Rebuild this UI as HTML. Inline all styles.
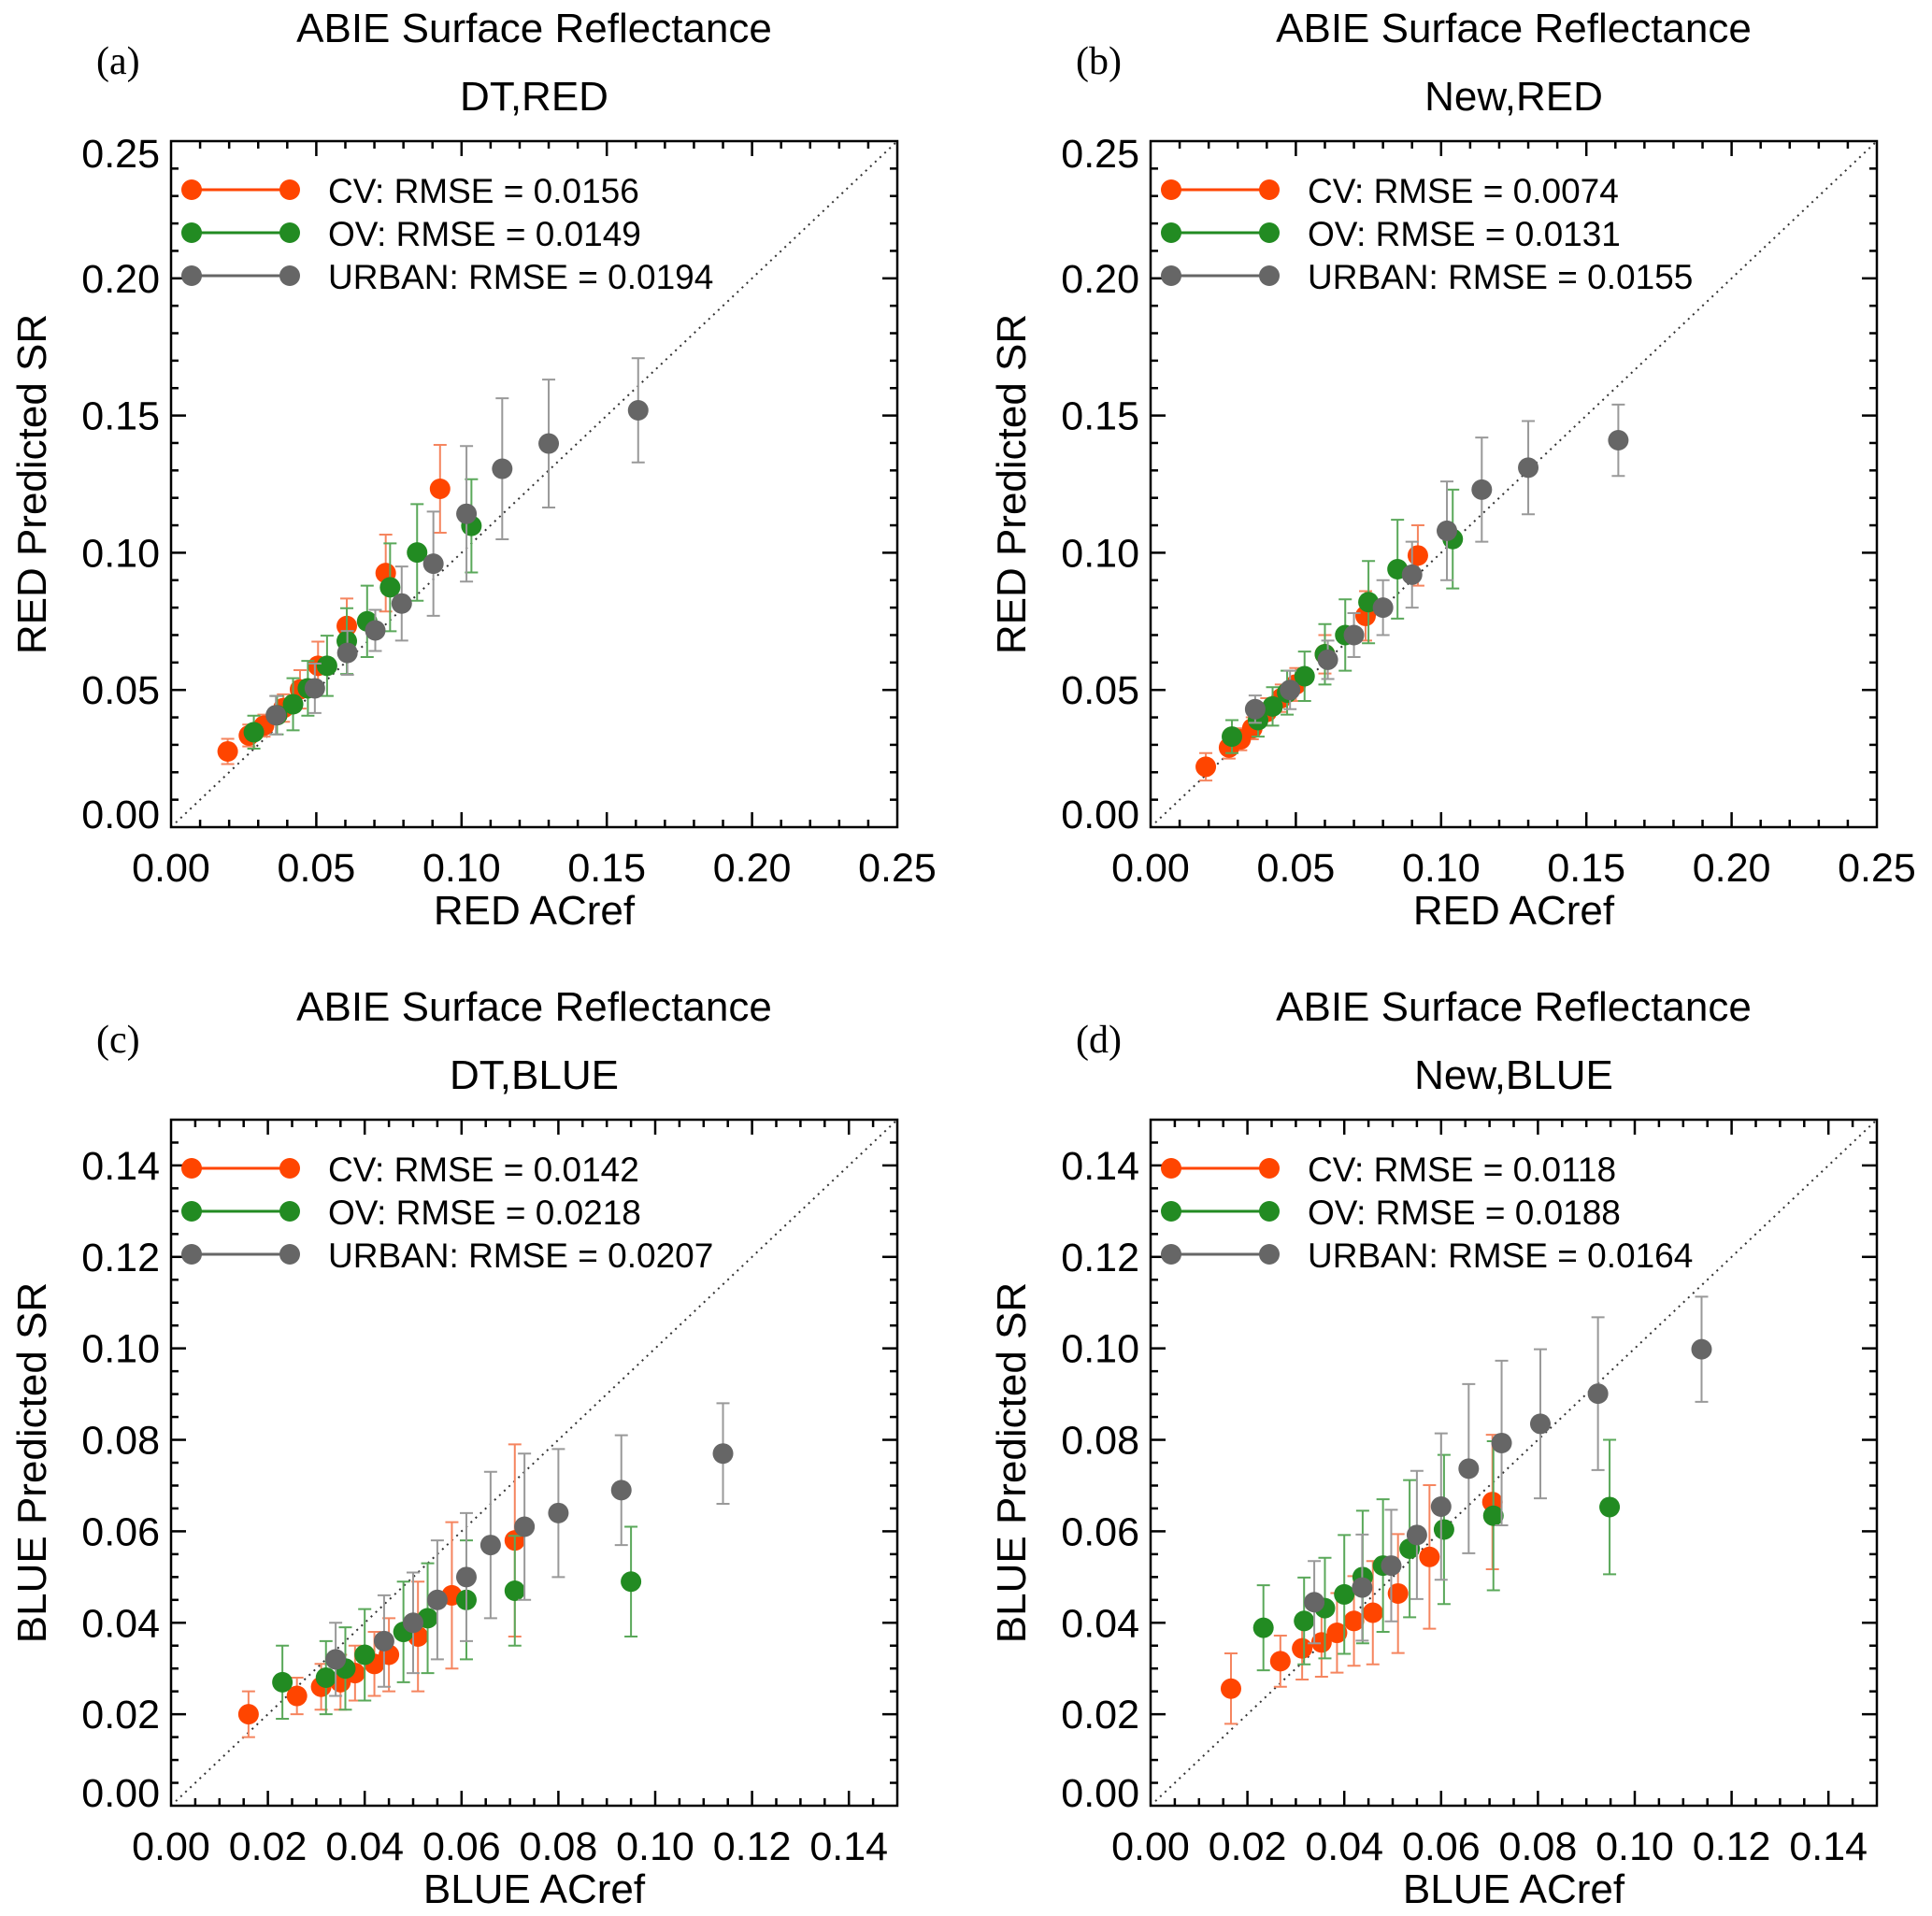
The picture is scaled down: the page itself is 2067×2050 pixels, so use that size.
<!DOCTYPE html>
<html><head><meta charset="utf-8">
<style>
html,body{margin:0;padding:0;background:#fff;}
svg{display:block;font-family:"Liberation Sans",Arial,sans-serif;}
</style></head>
<body>
<svg id="fig" width="2067" height="2050" viewBox="0 0 2067 2050" xmlns="http://www.w3.org/2000/svg"></svg>
<script>
// ---------- data ----------
const redTicks = ["0.00","0.05","0.10","0.15","0.20","0.25"];
const blueTicks = ["0.00","0.02","0.04","0.06","0.08","0.10","0.12","0.14"];

// panel a: DT RED  [x, y, err]
const aCV = [[0.0195,0.0276,0.0046],[0.0268,0.0334,0.004],[0.032,0.037,0.004],[0.0387,0.0434,0.005],[0.0444,0.0502,0.007],[0.0506,0.0588,0.0088],[0.0605,0.0733,0.010],[0.0739,0.0926,0.014],[0.0926,0.1233,0.016]];
const aOV = [[0.0285,0.0346,0.006],[0.0365,0.0408,0.007],[0.042,0.0448,0.0095],[0.0471,0.0506,0.010],[0.0537,0.0588,0.011],[0.0605,0.0678,0.012],[0.0675,0.075,0.013],[0.0754,0.0874,0.016],[0.0847,0.1001,0.0176],[0.1034,0.1098,0.017]];
const aUR = [[0.0361,0.0408,0.007],[0.0495,0.0506,0.009],[0.0607,0.0635,0.008],[0.0703,0.0717,0.0075],[0.0794,0.0815,0.0135],[0.0903,0.096,0.019],[0.1017,0.1142,0.0247],[0.114,0.1306,0.0257],[0.130,0.1398,0.0233],[0.1608,0.1519,0.019]];
// panel b: New RED
const bCV = [[0.019,0.022,0.005],[0.027,0.029,0.004],[0.031,0.032,0.004],[0.035,0.036,0.004],[0.040,0.042,0.005],[0.045,0.047,0.005],[0.050,0.052,0.006],[0.060,0.063,0.007],[0.074,0.077,0.009],[0.092,0.099,0.011]];
const bOV = [[0.028,0.033,0.006],[0.037,0.039,0.006],[0.042,0.044,0.007],[0.047,0.049,0.008],[0.053,0.055,0.009],[0.060,0.063,0.011],[0.067,0.070,0.013],[0.075,0.082,0.015],[0.085,0.094,0.018],[0.104,0.105,0.018]];
const bUR = [[0.036,0.043,0.005],[0.048,0.050,0.007],[0.061,0.061,0.007],[0.070,0.070,0.008],[0.080,0.080,0.010],[0.090,0.092,0.012],[0.102,0.108,0.018],[0.114,0.123,0.019],[0.130,0.131,0.017],[0.161,0.141,0.013]];
// panel c: DT BLUE
const cCV = [[0.016,0.020,0.005],[0.026,0.024,0.004],[0.031,0.026,0.005],[0.035,0.027,0.006],[0.038,0.029,0.006],[0.042,0.031,0.007],[0.045,0.033,0.008],[0.051,0.037,0.012],[0.058,0.046,0.016],[0.071,0.058,0.021]];
const cOV = [[0.023,0.027,0.008],[0.032,0.028,0.008],[0.036,0.030,0.009],[0.040,0.033,0.010],[0.048,0.038,0.011],[0.053,0.041,0.012],[0.061,0.045,0.013],[0.071,0.047,0.012],[0.095,0.049,0.012]];
const cUR = [[0.034,0.032,0.008],[0.044,0.036,0.010],[0.050,0.040,0.011],[0.055,0.045,0.013],[0.061,0.050,0.014],[0.066,0.057,0.016],[0.073,0.061,0.016],[0.080,0.064,0.014],[0.093,0.069,0.012],[0.114,0.077,0.011]];
// panel d: New BLUE
const dCV = [[0.0166,0.0256,0.0077],[0.0268,0.0316,0.0056],[0.0313,0.0344,0.0068],[0.0353,0.0357,0.0075],[0.0385,0.0378,0.0087],[0.042,0.0404,0.0098],[0.0459,0.0422,0.0113],[0.0511,0.0464,0.013],[0.0576,0.0544,0.0157],[0.0706,0.0664,0.0147]];
const dOV = [[0.0233,0.0389,0.0093],[0.0317,0.0404,0.0095],[0.036,0.0432,0.011],[0.040,0.0462,0.013],[0.0438,0.050,0.0145],[0.048,0.0525,0.0145],[0.0535,0.0562,0.015],[0.0606,0.0604,0.0163],[0.0708,0.0634,0.0163],[0.0948,0.0653,0.0147]];
const dUR = [[0.0338,0.0445,0.009],[0.0437,0.0477,0.0116],[0.0497,0.0525,0.0122],[0.055,0.0592,0.014],[0.060,0.0654,0.016],[0.0657,0.0737,0.0185],[0.0725,0.0793,0.018],[0.0805,0.0835,0.0163],[0.0924,0.0901,0.0167],[0.1138,0.0998,0.0115]];

const rmseA = ["0.0156","0.0149","0.0194"];
const rmseB = ["0.0074","0.0131","0.0155"];
const rmseC = ["0.0142","0.0218","0.0207"];
const rmseD = ["0.0118","0.0188","0.0164"];

// ---------- drawing ----------
const NS = "http://www.w3.org/2000/svg";
const svg = document.getElementById('fig');
function mk(tag, attrs, parent){
  const e = document.createElementNS(NS, tag);
  for (const k in attrs) e.setAttribute(k, attrs[k]);
  parent.appendChild(e);
  return e;
}
const COL = {cv:"#ff4500", ov:"#228b22", ur:"#666666"};
const ECOL = {cv:"#f5855f", ov:"#5aa85a", ur:"#999999"};
const W = 777, H = 734;

function panel(opts){
  const g = mk('g', {}, svg);
  
  
  const x0 = opts.x0, y0 = opts.y0, max = opts.max;
  const sx = v => x0 + v / max * W;
  const sy = v => y0 + H - v / max * H;

  // titles
  const t1 = mk('text', {x: x0 + W/2, y: y0 - 106, 'font-size': 44, 'text-anchor': 'middle', fill: '#000'}, g);
  t1.textContent = "ABIE Surface Reflectance";
  
  
  const t2 = mk('text', {x: x0 + W/2, y: y0 - 33, 'font-size': 44, 'text-anchor': 'middle', fill: '#000'}, g);
  t2.textContent = opts.sub;
  
  
  const pl = mk('text', {x: x0 - 80, y: y0 - 72, 'font-size': 42, 'font-family': '"Liberation Serif",serif', fill: '#000'}, g);
  pl.textContent = "(" + opts.id + ")";
  
  

  // ticks
  const minorStep = opts.minor, majorStep = opts.major;
  const nMinor = Math.round(max / minorStep);
  const ratio = Math.round(majorStep / minorStep);
  const tg = mk('g', {stroke: '#000', 'stroke-width': 2.5}, g);
  
  
  for (let i = 1; i < nMinor; i++){
    const v = i * minorStep;
    const len = (i % ratio === 0) ? 16 : 8;
    mk('line', {x1: sx(v), x2: sx(v), y1: y0 + H, y2: y0 + H - len}, tg);
    mk('line', {x1: sx(v), x2: sx(v), y1: y0, y2: y0 + len}, tg);
    mk('line', {x1: x0, x2: x0 + len, y1: sy(v), y2: sy(v)}, tg);
    mk('line', {x1: x0 + W, x2: x0 + W - len, y1: sy(v), y2: sy(v)}, tg);
  }
  // tick labels
  opts.ticks.forEach((lab, i) => {
    const v = i * majorStep;
    const tx = mk('text', {x: sx(v), y: y0 + H + 58, 'font-size': 43, 'text-anchor': 'middle', fill: '#000'}, g);
    tx.textContent = lab;
    
    
    let dy = 0;
    if (v === 0) dy = -14;
    if (Math.abs(v - max) < 1e-9) dy = 13;
    const ty = mk('text', {x: x0 - 12, y: sy(v) + 15 + dy, 'font-size': 43, 'text-anchor': 'end', fill: '#000'}, g);
    ty.textContent = lab;
    
    
  });
  // axis titles
  const xt = mk('text', {x: x0 + W/2, y: y0 + H + 104, 'font-size': 44, 'text-anchor': 'middle', fill: '#000'}, g);
  xt.textContent = opts.xlab;
  
  
  const yt = mk('text', {x: 0, y: 0, 'font-size': 44, 'text-anchor': 'middle', fill: '#000', transform: `translate(${x0 - 134},${y0 + H/2}) rotate(-90)`}, g);
  yt.textContent = opts.ylab;
  
  

  // 1:1 line
  const dl = mk('line', {x1: sx(0), y1: sy(0), x2: sx(max), y2: sy(max), stroke: '#333', 'stroke-width': 2, 'stroke-dasharray': '2,5'}, g);
  
  

  // series
  const series = [['cv', opts.cv], ['ov', opts.ov], ['ur', opts.ur]];
  series.forEach(([key, data]) => {
    const sg = mk('g', {}, g);
    
    
    data.forEach(d => {
      const cx = sx(d[0]), cy = sy(d[1]), top = sy(d[1] + d[2]), bot = sy(d[1] - d[2]);
      const e = mk('path', {d: `M${cx},${top}V${bot}M${cx-7},${top}H${cx+7}M${cx-7},${bot}H${cx+7}`, stroke: ECOL[key], 'stroke-width': 2, fill: 'none'}, sg);
      
      
    });
    data.forEach(d => {
      const c = mk('circle', {cx: sx(d[0]), cy: sy(d[1]), r: 11, fill: COL[key]}, sg);
      
      
    });
  });

  // legend
  const names = ["CV", "OV", "URBAN"];
  const keys = ['cv', 'ov', 'ur'];
  keys.forEach((k, i) => {
    const ly = y0 + 52 + i * 46;
    const lg = mk('g', {}, g);
    
    
    mk('line', {x1: x0 + 22, x2: x0 + 127, y1: ly, y2: ly, stroke: COL[k], 'stroke-width': 3}, lg);
    mk('circle', {cx: x0 + 22, cy: ly, r: 11, fill: COL[k]}, lg);
    mk('circle', {cx: x0 + 127, cy: ly, r: 11, fill: COL[k]}, lg);
    const lt = mk('text', {x: x0 + 168, y: ly + 14, 'font-size': 37, fill: '#000'}, lg);
    lt.textContent = names[i] + ": RMSE = " + opts.rmse[i];
  });

  // frame
  const fr = mk('rect', {x: x0, y: y0, width: W, height: H, fill: 'none', stroke: '#000', 'stroke-width': 2.5}, g);
  
  
}

panel({id:'a', x0:183, y0:151, max:0.25, minor:0.01, major:0.05, ticks:redTicks, sub:"DT,RED", xlab:"RED ACref", ylab:"RED Predicted SR", cv:aCV, ov:aOV, ur:aUR, rmse:rmseA});
panel({id:'b', x0:1231, y0:151, max:0.25, minor:0.01, major:0.05, ticks:redTicks, sub:"New,RED", xlab:"RED ACref", ylab:"RED Predicted SR", cv:bCV, ov:bOV, ur:bUR, rmse:rmseB});
panel({id:'c', x0:183, y0:1198, max:0.15, minor:0.005, major:0.02, ticks:blueTicks, sub:"DT,BLUE", xlab:"BLUE ACref", ylab:"BLUE Predicted SR", cv:cCV, ov:cOV, ur:cUR, rmse:rmseC});
panel({id:'d', x0:1231, y0:1198, max:0.15, minor:0.005, major:0.02, ticks:blueTicks, sub:"New,BLUE", xlab:"BLUE ACref", ylab:"BLUE Predicted SR", cv:dCV, ov:dOV, ur:dUR, rmse:rmseD});
</script>
</body></html>
